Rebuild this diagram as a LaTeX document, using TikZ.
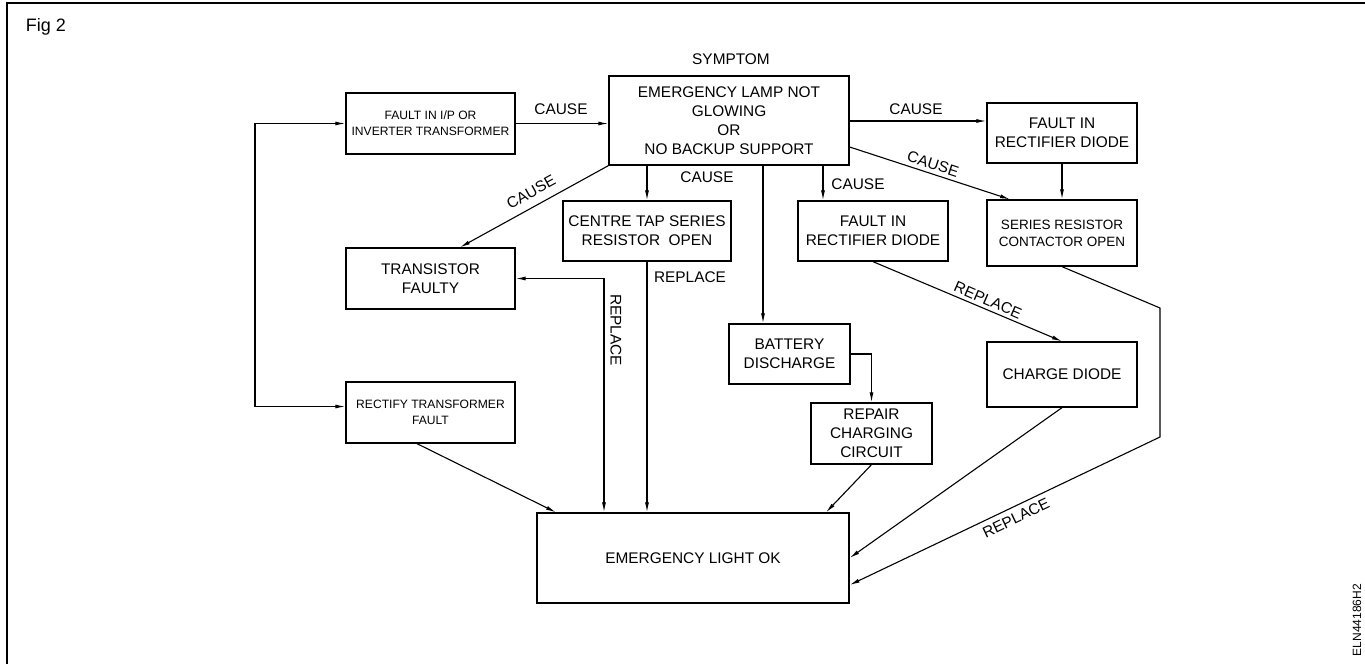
\documentclass[tikz,border=0pt]{standalone}
\usepackage{fontspec}
\setmainfont{Liberation Sans}
\usetikzlibrary{arrows.meta, calc}

\begin{document}
\begin{tikzpicture}[
        x=1pt, y=-1pt,
        s/.style={draw, line width=1.3pt, inner sep=0pt, align=center,
            font=\fontsize{15.4}{19}\selectfont},
        sm/.style={s, font=\fontsize{12.1}{16}\selectfont},
        md/.style={s, font=\fontsize{13.5}{17}\selectfont},
        sz/.style 2 args={minimum width=#1pt, minimum height=#2pt},
        rel/.style={-{Latex[length=10pt,width=4pt]}, line width=1.1pt},
        rel2/.style={{Latex[length=10pt,width=4pt]}-{Latex[length=10pt,width=4pt]}, line width=1.1pt},
        lab/.style={inner sep=0pt, font=\fontsize{15.4}{19}\selectfont}
    ]
        \useasboundingbox (0,0) rectangle (1365,664);
        \draw[line width=2.2pt] (7,664) -- (7,3) -- (1365,3);
        \node[lab, font=\fontsize{18}{21}\selectfont] (fig) at (46,27) {Fig 2};
        \node[lab, font=\fontsize{12}{14}\selectfont, rotate=90] (code) at (1357,620) {ELN44186H2};

        % boxes
        \node[s, sz={240}{89}] (sym) at (729,120.5) {EMERGENCY LAMP NOT\\GLOWING\\OR\\NO BACKUP SUPPORT};
        \node[lab] (symt) at (731,59) {SYMPTOM};
        \node[sm, sz={169}{61}] (ip) at (430.5,123.5) {FAULT IN I/P OR\\INVERTER TRANSFORMER};
        \node[s, sz={169}{61}] (tr) at (430.5,278.5) {TRANSISTOR\\FAULTY};
        \node[sm, sz={169}{61}] (rt) at (430.5,412.5) {RECTIFY TRANSFORMER\\FAULT};
        \node[s, sz={168}{60}] (ct) at (647,231) {CENTRE TAP SERIES\\RESISTOR\ \ OPEN};
        \node[s, sz={150}{60}] (frm) at (873,231) {FAULT IN\\RECTIFIER DIODE};
        \node[s, sz={150}{60}] (frr) at (1062,133) {FAULT IN\\RECTIFIER DIODE};
        \node[md, sz={150}{66}] (sr) at (1062,233) {SERIES RESISTOR\\CONTACTOR OPEN};
        \node[s, sz={121}{60}] (bat) at (789.5,354) {BATTERY\\DISCHARGE};
        \node[s, sz={121}{61}] (rep) at (871.5,433.5) {REPAIR\\CHARGING\\CIRCUIT};
        \node[s, sz={150}{65}] (cd) at (1062,374.5) {CHARGE DIODE};
        \node[s, sz={312}{90}] (ok) at (693,558) {EMERGENCY LIGHT OK};

        % helper points
        \coordinate (c1) at ([yshift=12pt]frr.west);
        \coordinate (c2) at ([yshift=6pt]rt.west);
        \coordinate (b1) at ([xshift=-26.5pt]bat.north);
        \coordinate (f1) at ([xshift=-50pt]frm.north);
        \coordinate (lp) at (255,0);
        \coordinate (fb) at (604,0);
        \coordinate (k1) at (1160,308);
        \coordinate (k2) at (1160,437);

        % causes
        \draw[rel] (ip.east) -- (ip.east -| sym.west);
        \draw[rel] (c1 -| sym.east) -- (c1);
        \draw[rel] (sym.south west) -- ([xshift=29.5pt]tr.north);
        \draw[rel] (ct.north |- sym.south) -- (ct.north);
        \draw[rel] (b1 |- sym.south) -- (b1);
        \draw[rel] (f1 |- sym.south) -- (f1);
        \draw[rel] ([yshift=-26.5pt]sym.east) -- ([xshift=-52pt]sr.north);
        \draw[rel] (frr.south) -- (sr.north);
        \draw[rel] (bat.east) -| (rep.north);
        \draw[rel] (frm.south) -- (cd.north);

        % repairs
        \draw[rel2] (ip.west) -- (ip.west -| lp) -- (lp |- c2) -- (c2);
        \draw[rel2] (tr.east) -| (fb |- ok.north);
        \draw[rel] (ct.south) -- (ct.south |- ok.north);
        \draw[rel] ([xshift=-13.5pt]rt.south) -- ([xshift=-137pt]ok.north);
        \draw[rel] (rep.south) -- ([xshift=133pt]ok.north);
        \draw[rel] (cd.south) -- (ok.east);
        \draw[rel] (sr.south) -- (k1) -- (k2) -- ([yshift=-27pt]ok.east);

        % labels
        \node[lab] (l1) at (561,109) {CAUSE};
        \node[lab, rotate=29] (l2) at (531,192) {CAUSE};
        \node[lab] (l3) at (707,177) {CAUSE};
        \node[lab] (l4) at (858,184.5) {CAUSE};
        \node[lab] (l5) at (916,109.5) {CAUSE};
        \node[lab, rotate=-18] (l6) at (933,164) {CAUSE};
        \node[lab] (l7) at (690,277) {REPLACE};
        \node[lab, rotate=-90] (l8) at (616,330) {REPLACE};
        \node[lab, rotate=-23.4] (l9) at (988,300) {REPLACE};
        \node[lab, rotate=25.4] (l10) at (1016,518) {REPLACE};
    \end{tikzpicture}
\end{document}
